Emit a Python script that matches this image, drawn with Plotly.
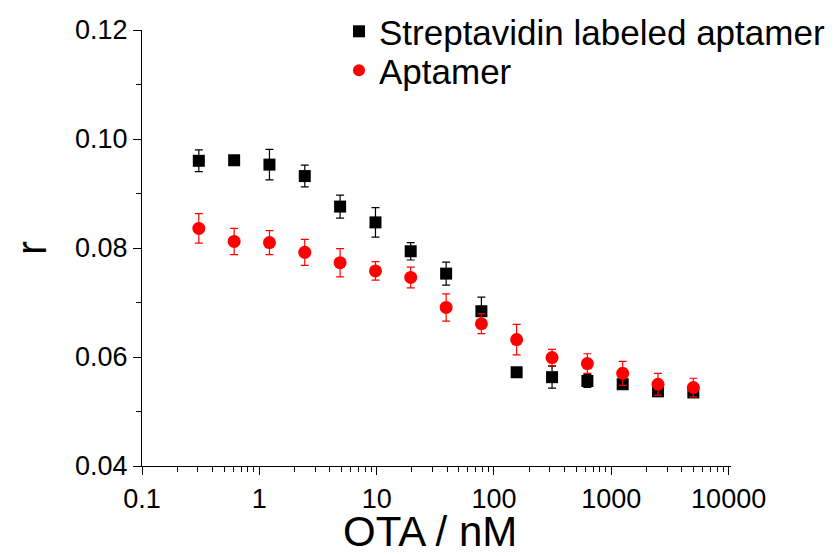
import plotly.graph_objects as go

conc = [0.305, 0.61, 1.22, 2.44, 4.88, 9.77, 19.5, 39.1, 78.1, 156, 312.5, 625, 1250, 2500, 5000]

strep_r = [0.0960, 0.0961, 0.0953, 0.0932, 0.0876, 0.0847, 0.0794, 0.0753, 0.0684, 0.0572, 0.0563, 0.0556, 0.0550, 0.0537, 0.0535]
strep_err = [0.0020, 0.0003, 0.0028, 0.0020, 0.0021, 0.0027, 0.0016, 0.0021, 0.0026, 0.0003, 0.0020, 0.0012, 0.0007, 0.0005, 0.0005]

apt_r = [0.0836, 0.0812, 0.0810, 0.0792, 0.0773, 0.0758, 0.0746, 0.0691, 0.0661, 0.0632, 0.0599, 0.0588, 0.0570, 0.0550, 0.0544]
apt_err = [0.0027, 0.0024, 0.0022, 0.0024, 0.0026, 0.0017, 0.0019, 0.0025, 0.0018, 0.0028, 0.0015, 0.0018, 0.0022, 0.0020, 0.0017]

x_title = "OTA / nM"
y_title = "r"

FONT = "Liberation Sans, Arial, sans-serif"

fig = go.Figure()
fig.add_trace(go.Scatter(
    x=conc, y=strep_r, mode="markers", name="Streptavidin labeled aptamer",
    marker=dict(symbol="square", size=12, color="black"),
    error_y=dict(type="data", array=strep_err, color="black", thickness=1.2, width=4),
    legend="legend",
))
fig.add_trace(go.Scatter(
    x=conc, y=apt_r, mode="markers", name="Aptamer",
    marker=dict(symbol="circle", size=13, color="red"),
    error_y=dict(type="data", array=apt_err, color="red", thickness=1.2, width=4),
    legend="legend2",
))

leg_common = dict(
    xanchor="left", yanchor="top",
    font=dict(size=35, family=FONT, color="black"),
    bgcolor="rgba(0,0,0,0)", itemsizing="constant",
)

# page body has an 8px offset; plot area in figure coords: x 134..723, y 22..458
fig.update_layout(
    width=835, height=556,
    margin=dict(l=134, r=0, t=0, b=98, autoexpand=False),
    paper_bgcolor="white", plot_bgcolor="white",
    font=dict(family=FONT, color="black"),
    showlegend=True,
    legend=dict(x=0.281, y=1.013, **leg_common),
    legend2=dict(x=0.281, y=0.928, **leg_common),
    xaxis=dict(
        type="log", range=[-1, 4.02], domain=[0, 589 / 701],
        tickvals=[0.1, 1, 10, 100, 1000, 10000],
        ticktext=["0.1", "1", "10", "100", "1000", "10000"],
        ticks="outside", ticklen=8, tickwidth=1.2, tickcolor="black",
        minor=dict(ticks="outside", ticklen=5, tickwidth=1, tickcolor="black",
                   dtick="D1", showgrid=False),
        showline=True, linecolor="black", linewidth=1.2,
        showgrid=False, zeroline=False, automargin=False,
        tickfont=dict(size=27, family=FONT),
    ),
    yaxis=dict(
        range=[0.04, 0.12], domain=[0, 436 / 458],
        tickvals=[0.04, 0.06, 0.08, 0.10, 0.12],
        ticktext=["0.04", "0.06", "0.08", "0.10", "0.12"],
        ticks="outside", ticklen=8, tickwidth=1.2, tickcolor="black",
        minor=dict(ticks="outside", ticklen=5, tickwidth=1, tickcolor="black",
                   dtick=0.01, showgrid=False),
        showline=True, linecolor="black", linewidth=1.2,
        showgrid=False, zeroline=False, automargin=False,
        tickfont=dict(size=27, family=FONT),
        title=dict(text=y_title, font=dict(size=42, family=FONT), standoff=25),
    ),
    annotations=[dict(
        text=x_title, xref="paper", yref="paper", x=0.411, y=-0.144,
        xanchor="center", yanchor="middle", showarrow=False,
        font=dict(size=42, family=FONT, color="black"),
    )],
)

fig.write_html("out.html")
